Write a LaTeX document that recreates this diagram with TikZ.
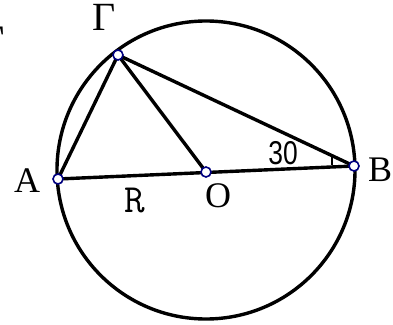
\documentclass[tikz,border=0pt]{standalone}
\usepackage{fontspec}
\setmainfont{Liberation Serif}
\newfontfamily\sansf{Liberation Sans}
\begin{document}
\begin{tikzpicture}[x=1pt,y=-1pt,
  seg/.style={line width=3.4pt,line cap=round},
  pt/.style={circle,draw=blue!50!black,fill=white,line width=1.6pt,inner sep=0pt,minimum size=10pt},
  lbl/.style={font=\fontsize{36}{38}\selectfont,inner sep=0pt}]
\useasboundingbox (0,0) rectangle (393,324);
\coordinate (O) at (206,172);
\coordinate (C) at (206,170);
\coordinate (A) at (58,179);
\coordinate (B) at (354,166);
\coordinate (G) at (118,55);
\coordinate (M1) at (332,165);
\coordinate (M2) at (332,157);
\draw[seg] (C) circle (149);
\draw[seg] (A) -- (B);
\draw[seg] (A) -- (G);
\draw[seg] (G) -- (O);
\draw[seg] (G) -- (B);
\draw[line width=2pt] (M1) -- (M2);
\node[pt] (nA) at (A) {};
\node[pt] (nO) at (O) {};
\node[pt] (nB) at (B) {};
\node[pt] (nG) at (G) {};
\node[lbl,font=\fontsize{40}{42}\selectfont] (lG) at (104,17) {Γ};
\node[lbl,font=\fontsize{42}{44}\selectfont] (lG2) at (-7,41) {Γ};
\node[lbl] (lA) at (27,181) {A};
\node[lbl] (lB) at (380,170) {B};
\node[lbl] (lO) at (218,196) {O};
\node[lbl,font=\fontsize{40}{42}\selectfont\ttfamily] (lR) at (135,201) {R};
\node[lbl,font=\fontsize{33}{35}\selectfont\sansf,xscale=0.8] (l30) at (283,153) {30};
\end{tikzpicture}
\end{document}
